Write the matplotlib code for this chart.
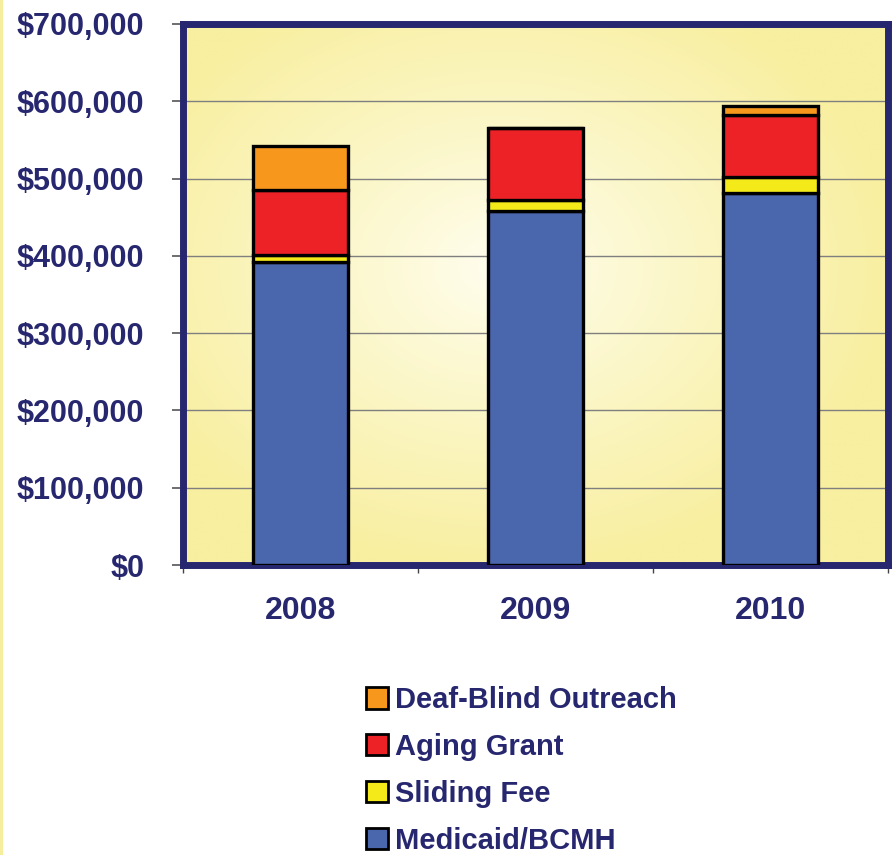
import matplotlib
matplotlib.use('Agg')
import matplotlib.pyplot as plt
from matplotlib.patches import Rectangle, Patch
from matplotlib.ticker import FuncFormatter, FixedLocator
import numpy as np

# Datos (en dólares)
anios = ['2008', '2009', '2010']
medicaid = [392000, 458000, 481000]
sliding_fee = [9000, 14000, 21000]
aging_grant = [84000, 93000, 80000]
deaf_blind = [57000, 0, 12000]

series = [
    ('Medicaid/BCMH', medicaid, '#4A66AC'),
    ('Sliding Fee', sliding_fee, '#F4EA1A'),
    ('Aging Grant', aging_grant, '#EC2227'),
    ('Deaf-Blind Outreach', deaf_blind, '#F7981D'),
]

navy = '#27276F'
plt.rcParams['font.family'] = ['Liberation Sans', 'DejaVu Sans']

fig = plt.figure(figsize=(8.95, 8.55), dpi=100)
fig.patch.set_facecolor('white')
# franja amarilla en el borde izquierdo
fig.patches.append(Rectangle((0, 0), 3 / 895, 1, transform=fig.transFigure,
                             facecolor='#F6EE9C', edgecolor='none', zorder=0))

ax = fig.add_axes([183 / 895, 1 - 565 / 855, 705 / 895, 541 / 855])

# Fondo con degradado radial (blanco al centro, amarillo en los bordes)
nx, ny = 400, 300
gx, gy = np.meshgrid(np.linspace(0, 1, nx), np.linspace(0, 1, ny))
dist = np.sqrt(((gx - 0.45) / 0.75) ** 2 + ((gy - 0.55) / 0.75) ** 2)
t = np.clip(dist / 0.75, 0, 1) ** 0.9
centro = np.array([255, 254, 240]) / 255
borde = np.array([248, 239, 160]) / 255
img = centro[None, None, :] * (1 - t[..., None]) + borde[None, None, :] * t[..., None]
ax.imshow(img, extent=[0, 1, 0, 1], transform=ax.transAxes, aspect='auto',
          origin='lower', zorder=0)

x = np.arange(len(anios))
base = np.zeros(len(anios))
for nombre, valores, color in series:
    ax.bar(x, valores, width=0.405, bottom=base, color=color, edgecolor='black',
           linewidth=2.4, zorder=3, label=nombre)
    base = base + np.array(valores)

ax.set_xlim(-0.5, 2.5)
ax.set_ylim(0, 700000)
ax.set_yticks(np.arange(0, 700001, 100000))
ax.yaxis.set_major_formatter(FuncFormatter(lambda v, p: '${:,.0f}'.format(v)))
ax.grid(axis='y', color='#7F7F7F', linewidth=1.0, zorder=1)
ax.set_axisbelow(True)

ax.set_xticks(x)
ax.set_xticklabels(anios)
ax.xaxis.set_minor_locator(FixedLocator([-0.5, 0.5, 1.5, 2.5]))
ax.tick_params(axis='x', which='major', length=0, pad=22)
ax.tick_params(axis='x', which='minor', length=6, width=1, color='#444444', direction='out')
ax.tick_params(axis='y', length=8, width=1.2, color='#555555', pad=20)

for lbl in ax.get_xticklabels():
    lbl.set_fontsize(23)
for lbl in ax.get_yticklabels():
    lbl.set_fontsize(22)
for lbl in ax.get_xticklabels() + ax.get_yticklabels():
    lbl.set_fontweight('bold')
    lbl.set_color(navy)

for sp in ax.spines.values():
    sp.set_color(navy)
    sp.set_linewidth(5)

# Leyenda en orden inverso (como en el original)
handles = [Patch(facecolor=c, edgecolor='black', linewidth=2, label=n)
           for n, v, c in series[::-1]]
leg = fig.legend(handles=handles, loc='upper left', bbox_to_anchor=(366 / 895, 1 - 686 / 855),
                 frameon=False, handlelength=0.75, handleheight=0.75, handletextpad=0.25,
                 labelspacing=0.65, borderpad=0, borderaxespad=0,
                 prop={'size': 21, 'weight': 'bold'})
for txt in leg.get_texts():
    txt.set_color(navy)

fig.savefig('out.png', dpi=100, facecolor=fig.get_facecolor())
